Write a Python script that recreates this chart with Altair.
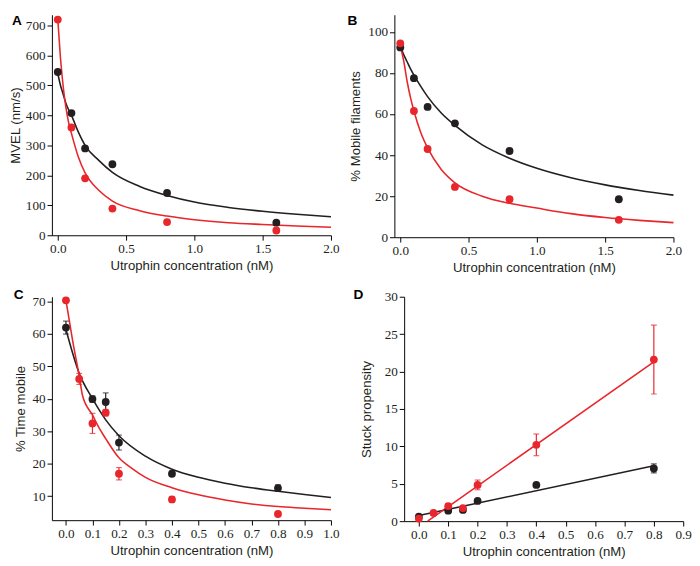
import altair as alt
import pandas as pd

BLACK = "#231f20"
RED = "#e8262b"

# ---------------- Panel A : MVEL ----------------
A_conc = [0.0, 0.1, 0.2, 0.4, 0.8, 1.6]
A_black = [545, 408, 290, 237, 141, 42]
A_red = [720, 360, 190, 89, 44, 16]
A_fit_x = [0.0, 0.02, 0.04, 0.06, 0.08, 0.1, 0.15, 0.2, 0.3, 0.4, 0.6, 0.8, 1.0, 1.25, 1.5, 1.75, 2.0]
A_fit_black = [540, 500, 470, 440, 418, 400, 345, 300, 250, 210, 163, 133, 111, 93, 80, 70, 62]
A_fit_red = [720, 590, 495, 425, 375, 340, 262, 208, 150, 114, 82, 64, 52, 42, 36, 31, 27]

# ---------------- Panel B : % Mobile filaments ----------------
B_conc = [0.0, 0.1, 0.2, 0.4, 0.8, 1.6]
B_black = [92.5, 77.5, 63.5, 55.5, 42.0, 18.5]
B_red = [94.5, 61.5, 43.0, 24.5, 18.5, 8.5]
B_fit_x = [0.0, 0.025, 0.05, 0.075, 0.1, 0.15, 0.2, 0.3, 0.4, 0.6, 0.8, 1.0, 1.25, 1.5, 1.75, 2.0]
B_fit_black = [93, 89, 85.5, 82, 79, 73.5, 68.5, 60.5, 54.5, 45, 38.5, 33.6, 29, 25.5, 22.8, 20.5]
B_fit_red = [93, 86, 76, 68, 61.5, 51, 43.5, 33, 26.5, 20, 16.5, 14.2, 11.5, 9.6, 8.2, 7.1]

# ---------------- Panel C : % Time mobile ----------------
C_conc_black = [0.0, 0.1, 0.15, 0.2, 0.4, 0.8]
C_black = [61.9, 39.9, 39.0, 26.5, 16.9, 12.5]
C_black_err = [2.0, 1.0, 2.8, 2.3, 0.8, 1.0]
C_conc_red = [0.0, 0.05, 0.1, 0.15, 0.2, 0.4, 0.8]
C_red = [70.3, 46.1, 32.4, 35.7, 16.9, 9.0, 4.5]
C_red_err = [0.0, 1.7, 3.1, 1.0, 1.9, 0.8, 0.7]
C_fit_x_black = [0.0, 0.05, 0.1, 0.15, 0.2, 0.3, 0.4, 0.5, 0.6, 0.7, 0.8, 0.9, 1.0]
C_fit_black = [61.3, 47.8, 40.0, 33.5, 28.6, 22.3, 18.3, 15.8, 14.0, 12.6, 11.5, 10.5, 9.6]
C_fit_x_red = [0.0, 0.025, 0.05, 0.0625, 0.1, 0.125, 0.15, 0.2, 0.25, 0.3, 0.4, 0.5, 0.6, 0.7, 0.8, 0.9, 1.0]
C_fit_red = [70.3, 58.0, 47.0, 41.0, 35.0, 31.0, 27.7, 21.8, 18.5, 15.8, 12.6, 10.4, 8.8, 7.6, 6.8, 6.3, 5.8]

# ---------------- Panel D : Stuck propensity ----------------
D_conc_black = [0.0, 0.1, 0.15, 0.2, 0.4, 0.8]
D_black = [0.6, 1.4, 1.5, 2.7, 4.85, 7.05]
D_black_err = [0.0, 0.0, 0.0, 0.0, 0.0, 0.6]
D_conc_red = [0.0, 0.05, 0.1, 0.15, 0.2, 0.4, 0.8]
D_red = [0.35, 1.1, 2.0, 1.75, 4.85, 10.2, 21.6]
D_red_err = [0.0, 0.0, 0.3, 0.3, 0.65, 1.45, 4.6]
D_fit_x_black = [0.0, 0.8]
D_fit_black = [0.75, 7.4]
D_fit_x_red = [0.03, 0.8]
D_fit_red = [0.0, 21.3]

XTITLE = "Utrophin concentration (nM)"
LABEL_FONT = "Times New Roman, Liberation Serif, serif"
TITLE_FONT = "Liberation Sans, Arial, sans-serif"


def make_axis(values, fmt, title, pad):
    return alt.Axis(values=values, format=fmt, title=title, titlePadding=pad,
                    labelFont=LABEL_FONT, labelFontSize=13.5, labelColor=BLACK,
                    titleFont=TITLE_FONT, titleFontSize=13.5, titleFontWeight="normal",
                    titleColor=BLACK, grid=False, domainColor="black",
                    tickColor="black", tickSize=5, labelPadding=2,
                    labelFlush=False)


def panel(letter, series, x_dom, y_dom, x_ticks, y_ticks, width, height,
          ytitle, ytitle_pad, letter_dx, letter_dy):
    xs = alt.Scale(domain=x_dom, nice=False, zero=False)
    ys = alt.Scale(domain=y_dom, nice=False, zero=False)
    xax = make_axis(x_ticks, ".1f", XTITLE, 4)
    yax = make_axis(y_ticks, "d", ytitle, ytitle_pad)
    X = lambda: alt.X("x:Q", scale=xs, axis=xax)
    Y = lambda: alt.Y("y:Q", scale=ys, axis=yax)

    layers = []
    for color, fx, fy, _, _, _ in series:
        df = pd.DataFrame({"x": fx, "y": fy})
        layers.append(alt.Chart(df).mark_line(color=color, strokeWidth=1.6,
                                              interpolate="monotone")
                      .encode(x=X(), y=Y()))
    for color, _, _, px, py, perr in series:
        df = pd.DataFrame({"x": px, "y": py, "e": perr})
        df["lo"] = df["y"] - df["e"]
        df["hi"] = df["y"] + df["e"]
        de = df[df["e"] > 0]
        if len(de):
            layers.append(alt.Chart(de).mark_rule(color=color, strokeWidth=1.2)
                          .encode(x=X(), y=alt.Y("lo:Q", scale=ys, axis=yax), y2="hi:Q"))
            for col in ["lo", "hi"]:
                layers.append(alt.Chart(de).mark_tick(color=color, orient="horizontal",
                                                      size=6, thickness=1.2)
                              .encode(x=X(), y=alt.Y(f"{col}:Q", scale=ys, axis=yax)))
        layers.append(alt.Chart(df).mark_circle(color=color, size=64, opacity=1)
                      .encode(x=X(), y=Y()))
    layers.append(alt.Chart(pd.DataFrame({"t": [letter]})).mark_text(
        font="Liberation Sans", fontWeight="bold", fontSize=14, align="left",
        baseline="top", color="black")
        .encode(text="t:N", x=alt.value(letter_dx), y=alt.value(letter_dy)))
    return alt.layer(*layers).properties(width=width, height=height)


pA = panel("A",
           [(BLACK, A_fit_x, A_fit_black, A_conc, A_black, [0] * 6),
            (RED, A_fit_x, A_fit_red, A_conc, A_red, [0] * 6)],
           [-0.043, 2.0], [0, 736], [0.0, 0.5, 1.0, 1.5, 2.0],
           list(range(0, 701, 100)), 286, 226, "MVEL (nm/s)", 3, -41, 0)

pB = panel("B",
           [(BLACK, B_fit_x, B_fit_black, B_conc, B_black, [0] * 6),
            (RED, B_fit_x, B_fit_red, B_conc, B_red, [0] * 6)],
           [-0.043, 2.0], [0, 108.4], [0.0, 0.5, 1.0, 1.5, 2.0],
           list(range(0, 101, 20)), 286, 228, "% Mobile filaments", 6, -48, 0)

pC = panel("C",
           [(BLACK, C_fit_x_black, C_fit_black, C_conc_black, C_black, C_black_err),
            (RED, C_fit_x_red, C_fit_red, C_conc_red, C_red, C_red_err)],
           [-0.053, 1.0], [2.6, 71.4], [round(i * 0.1, 1) for i in range(11)],
           list(range(10, 71, 10)), 286, 229, "% Time mobile", 5, -39, -9)

pD = panel("D",
           [(BLACK, D_fit_x_black, D_fit_black, D_conc_black, D_black, D_black_err),
            (RED, D_fit_x_red, D_fit_red, D_conc_red, D_red, D_red_err)],
           [-0.05, 0.9], [0, 30], [round(i * 0.1, 1) for i in range(10)],
           list(range(0, 31, 5)), 286, 230, "Stuck propensity", 11, -52, -9)

row1 = alt.hconcat(pA, pB, spacing=8)
row2 = alt.hconcat(pC, pD, spacing=14)

chart = (alt.vconcat(row1, row2, spacing=14)
         .properties(padding=0)
         .configure_view(stroke=None))

chart.save("out.html", embed_options={"renderer": "svg", "actions": False})
